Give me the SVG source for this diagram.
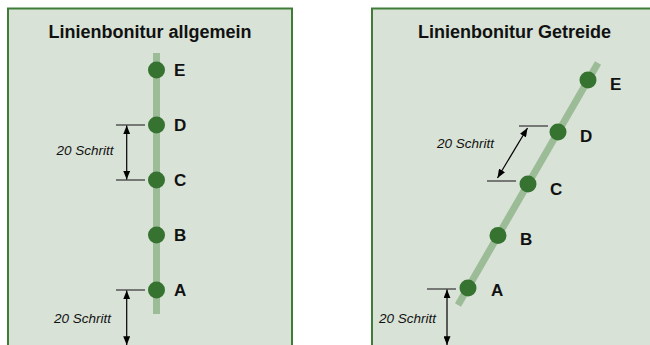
<svg xmlns="http://www.w3.org/2000/svg" width="650" height="345" viewBox="0 0 650 345">
  <defs>
    <marker id="ah" viewBox="0 0 10 8" refX="10" refY="4" markerWidth="9" markerHeight="7" markerUnits="userSpaceOnUse" orient="auto-start-reverse">
      <path d="M0,0 L10,4 L0,8 z" fill="#000"/>
    </marker>
    <style>
      .panel { fill: #d8e2d6; stroke: #3e7c38; stroke-width: 2; }
      .title { font-family: "Liberation Sans", Arial, sans-serif; font-weight: bold; font-size: 18px; fill: #111; text-anchor: middle; }
      .track { stroke: #9cbb97; stroke-width: 7; fill: none; }
      .dot { fill: #367230; }
      .lbl { font-family: "Liberation Sans", Arial, sans-serif; font-weight: bold; font-size: 17px; fill: #111; }
      .dim { font-family: "Liberation Sans", Arial, sans-serif; font-style: italic; font-size: 13.5px; fill: #111; }
      .tick { stroke: #555; stroke-width: 1.5; }
      .arr { stroke: #000; stroke-width: 1.2; marker-start: url(#ah); marker-end: url(#ah); }
    </style>
  </defs>

  <g id="panel-allgemein">
    <rect class="panel" x="8" y="8.5" width="284" height="345"/>
    <text class="title" x="150" y="37.5">Linienbonitur allgemein</text>
    <line class="track" x1="156.5" y1="53" x2="156.5" y2="314"/>
  </g>
  <g id="panel-getreide">
    <rect class="panel" x="372" y="8.5" width="290" height="345"/>
    <text class="title" x="514.5" y="37.5">Linienbonitur Getreide</text>
    <line class="track" x1="598" y1="63" x2="458" y2="305"/>
  </g>

  <g id="L-E"><circle class="dot" cx="156.5" cy="70" r="8.5"/><text class="lbl" x="174" y="76">E</text></g>
  <g id="L-D"><circle class="dot" cx="156.5" cy="125" r="8.5"/><text class="lbl" x="174" y="131">D</text></g>
  <g id="L-C"><circle class="dot" cx="156.5" cy="180" r="8.5"/><text class="lbl" x="174" y="186">C</text></g>
  <g id="L-B"><circle class="dot" cx="156.5" cy="235" r="8.5"/><text class="lbl" x="174" y="241">B</text></g>
  <g id="L-A"><circle class="dot" cx="156.5" cy="290" r="8.5"/><text class="lbl" x="174" y="296">A</text></g>

  <g id="R-E"><circle class="dot" cx="588" cy="80" r="8.5"/><text class="lbl" x="610" y="90">E</text></g>
  <g id="R-D"><circle class="dot" cx="558" cy="132" r="8.5"/><text class="lbl" x="580" y="141.5">D</text></g>
  <g id="R-C"><circle class="dot" cx="528" cy="184" r="8.5"/><text class="lbl" x="550" y="195">C</text></g>
  <g id="R-B"><circle class="dot" cx="498" cy="235.5" r="8.5"/><text class="lbl" x="520" y="245">B</text></g>
  <g id="R-A"><circle class="dot" cx="468" cy="288" r="8.5"/><text class="lbl" x="491" y="296">A</text></g>

  <g id="connectors">
    <line class="tick" x1="116" y1="125" x2="145" y2="125"/>
    <line class="tick" x1="116" y1="180" x2="145" y2="180"/>
    <line class="arr" x1="126.7" y1="125.5" x2="126.7" y2="179.5"/>
    <text class="dim" x="56.5" y="155">20 Schritt</text>

    <line class="tick" x1="116" y1="290" x2="145" y2="290"/>
    <line class="arr" x1="126.7" y1="290.5" x2="126.7" y2="345"/>
    <text class="dim" x="54" y="322.5">20 Schritt</text>

    <line class="tick" x1="519" y1="126" x2="548" y2="126"/>
    <line class="tick" x1="487" y1="181" x2="516" y2="181"/>
    <line class="arr" x1="527.5" y1="128" x2="497.5" y2="178"/>
    <text class="dim" x="437" y="147.5">20 Schritt</text>

    <line class="tick" x1="427" y1="289" x2="456" y2="289"/>
    <line class="arr" x1="447" y1="289.5" x2="447" y2="345"/>
    <text class="dim" x="379" y="322.5">20 Schritt</text>
  </g>
</svg>
